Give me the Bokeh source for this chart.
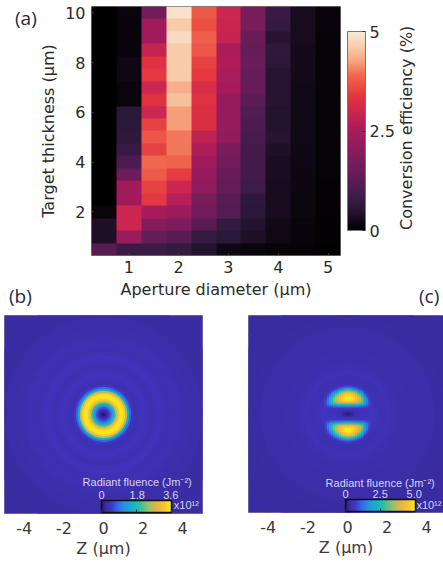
import numpy as np
from bokeh.embed import file_html
from bokeh.resources import INLINE
from bokeh.plotting import figure
from bokeh.layouts import column, row
from bokeh.models import (ColumnDataSource, LinearColorMapper, ColorBar, FixedTicker, Div,
                          Label, LinearAxis, Range1d)

# ---------- panel (a) data: conversion efficiency (%) ----------
thickness = [10, 9.5, 9, 8.5, 8, 7.5, 7, 6.5, 6, 5.5, 5, 4.5, 4, 3.5, 3, 2.5, 2, 1.5, 1, 0.5]
d05 = [0, 0, 0, 0, 0, 0, 0, 0, 0, 0, 0, 0, 0, 0, 0, 0.02, 0.15, 0.4, 0.4, 1.2]
d10 = [.15, .12, .12, .12, .2, .2, .15, .15, .55, .55, .6, .75, 1.0, 1.5, 2.4, 2.4, 3.0, 3.0, 2.3, .8]
d15 = [1.6, 2.4, 2.4, 2.9, 3.3, 3.4, 3.0, 3.3, 3.0, 3.5, 3.7, 3.5, 3.9, 3.75, 3.5, 3.4, 2.5, 1.9, 1.4, .8]
d20 = [4.9, 4.6, 4.8, 4.6, 4.6, 4.6, 4.35, 4.5, 4.2, 4.2, 4.0, 4.0, 3.85, 3.45, 3.0, 2.7, 2.3, 1.8, 1.2, .7]
d25 = [3.75, 3.65, 3.8, 3.7, 3.5, 3.4, 3.2, 3.3, 3.25, 3.25, 2.85, 2.6, 2.4, 2.2, 2.1, 1.7, 1.6, 1.2, .7, .45]
d30 = [3.0, 2.95, 2.9, 2.55, 2.6, 2.55, 2.5, 2.2, 2.2, 2.2, 2.15, 1.75, 1.6, 1.4, 1.35, 1.2, 1.15, .65, .55, .2]
d35 = [1.75, 1.7, 1.45, 1.4, 1.45, 1.4, 1.4, 1.25, 1.1, 1.05, .95, .9, .9, .9, .85, .6, .55, .45, .4, .15]
d40 = [.75, .65, .5, .6, .55, .5, .5, .5, .45, .45, .5, .4, .35, .35, .3, .3, .3, .25, .22, .1]
d45 = [.3, .3, .3, .28, .27, .27, .25, .25, .25, .22, .22, .2, .2, .18, .18, .17, .17, .13, .12, .08]
d50 = [.12, .12, .1, .1, .1, .1, .1, .1, .08, .08, .08, .08, .08, .08, .07, .07, .06, .05, .04, .03]
efficiency_columns = [d05, d10, d15, d20, d25, d30, d35, d40, d45, d50]

# ---------- panel (b) data: radial fluence profile (fraction of scale) ----------
b_radius = [7.2, 6, 5, 4.5, 4, 3.8, 3.6, 3.4, 3.2, 3.0, 2.8, 2.6, 2.4, 2.2, 2.0, 1.9, 1.8, 1.7, 1.6,
            1.5, 1.4, 1.3, 1.2, 1.1, 1.0, .9, .8, .7, .6, .5, .4, .3, .2, .1]
b_level = [.06, .06, .07, .08, .09, .10, .10, .09, .10, .115, .11, .095, .10, .115, .12, .11, .10, .09, .10,
           .14, .22, .42, .72, .92, .98, .97, .90, .72, .50, .33, .20, .12, .05, .01]

# ---------- panel (c) data: background rings and one quadrant of the fluence ----------
c_radius = [7.2, 6, 5, 4.4, 4.0, 3.6, 3.2, 2.8, 2.6, 2.4, 2.2, 2.0, 1.8]
c_level = [.055, .055, .06, .065, .07, .07, .075, .08, .085, .095, .105, .10, .09]
c_step = 0.1
c_quadrant = [
    [.00, .01, .03, .06, .09, .10, .11, .11, .11, .12, .12, .12, .13, .13, .12, .11, .10],
    [.03, .04, .05, .07, .09, .10, .11, .11, .11, .12, .12, .12, .13, .13, .12, .11, .10],
    [.10, .10, .10, .11, .11, .11, .12, .12, .12, .12, .12, .12, .13, .13, .12, .11, .10],
    [.14, .14, .14, .14, .14, .14, .14, .14, .14, .14, .14, .14, .13, .13, .12, .11, .10],
    [.28, .28, .27, .27, .26, .25, .24, .23, .21, .19, .17, .15, .13, .12, .11, .10, .10],
    [.55, .55, .54, .53, .51, .49, .46, .42, .37, .31, .24, .17, .13, .11, .10, .10, .10],
    [.80, .80, .79, .77, .74, .70, .65, .58, .49, .38, .27, .18, .13, .11, .10, .10, .10],
    [.95, .95, .93, .90, .86, .80, .73, .64, .52, .40, .27, .17, .12, .10, .10, .10, .10],
    [1.0, .99, .97, .93, .88, .81, .72, .61, .49, .36, .24, .15, .11, .10, .10, .10, .10],
    [.98, .97, .94, .89, .83, .75, .65, .53, .41, .29, .19, .13, .10, .09, .09, .10, .10],
    [.94, .92, .88, .82, .74, .65, .54, .43, .31, .21, .15, .11, .09, .09, .09, .10, .10],
    [.82, .80, .75, .68, .60, .50, .40, .30, .22, .15, .11, .09, .09, .09, .09, .10, .10],
    [.58, .56, .52, .46, .38, .30, .24, .18, .14, .11, .09, .09, .09, .09, .09, .10, .11],
    [.34, .33, .30, .26, .22, .17, .14, .12, .10, .09, .09, .09, .09, .09, .10, .10, .11],
    [.18, .17, .16, .14, .12, .11, .10, .09, .09, .09, .09, .09, .09, .09, .10, .11, .11],
    [.11, .11, .10, .10, .09, .09, .09, .09, .09, .09, .09, .09, .10, .10, .10, .11, .11],
    [.09, .09, .09, .09, .09, .09, .09, .09, .09, .09, .09, .10, .10, .10, .11, .11, .10],
]

# ---------- colour scales ----------
def ramp(stops, colors, n=256):
    rgb = np.array([[int(c[i:i + 2], 16) for i in (1, 3, 5)] for c in colors], float)
    t = np.linspace(0, 1, n)
    chans = [np.interp(t, stops, rgb[:, k]) for k in range(3)]
    return ["#%02x%02x%02x" % (int(a), int(b), int(c)) for a, b, c in zip(*chans)]

rocket = ramp([0, .06, .12, .2, .3, .4, .5, .6, .67, .73, .78, .85, .92, 1],
              ["#000000", "#180c1e", "#2f1a3e", "#4a1c50", "#6e1c5a", "#8a1c5c", "#a81b5c", "#cb2750",
               "#e2333f", "#ec5045", "#f0674f", "#f6a47e", "#f8cba9", "#faeada"])
parula = ramp([0, .06, .14, .22, .32, .44, .55, .68, .8, .9, 1],
              ["#241a6e", "#3b2ea6", "#4236c4", "#3565e8", "#2c8fe0", "#12b2cf", "#35c09b",
               "#9bc16a", "#e9b53f", "#fdc52e", "#f7f01c"])

AXIS_FONT = "DejaVu Sans"
TEXT = "#2b2b2b"
PANEL = "#1f2a44"
FONT_PX = "16px"

def style_axis(ax, color=TEXT):
    ax.major_label_text_font = AXIS_FONT
    ax.major_label_text_font_size = FONT_PX
    ax.major_label_text_color = color
    ax.axis_label_text_font = AXIS_FONT
    ax.axis_label_text_font_size = FONT_PX
    ax.axis_label_text_font_style = "normal"
    ax.axis_label_text_color = color
    ax.minor_tick_line_color = None
    ax.major_tick_in = 2
    ax.major_tick_out = 0
    ax.major_tick_line_color = "#444444"
    ax.axis_line_color = None

def blank_labels(ax, ticks):
    ax.major_label_overrides = {t: "" for t in ticks}
    ax.major_label_standoff = 0

# ---------- (a) ----------
a_map = LinearColorMapper(palette=rocket, low=0, high=5)
grid = np.array(efficiency_columns).T[::-1]
pa = figure(frame_width=249, frame_height=249, x_range=(0.25, 5.25), y_range=(0.25, 10.25),
            min_border_left=91, min_border_top=6, min_border_right=103, min_border_bottom=50,
            toolbar_location=None, output_backend="svg", outline_line_color="#777777")
pa.grid.visible = False
pa.image(image=[grid], x=0.25, y=0.25, dw=5, dh=10, color_mapper=a_map)
pa.xaxis.ticker = FixedTicker(ticks=[1, 2, 3, 4, 5])
pa.yaxis.ticker = FixedTicker(ticks=[2, 4, 6, 8, 10])
pa.xaxis.axis_label = "Aperture diameter (μm)"
pa.yaxis.axis_label = "Target thickness (μm)"
style_axis(pa.xaxis[0]); style_axis(pa.yaxis[0])
pa.xaxis.major_label_standoff = 5
pa.xaxis.axis_label_standoff = 4
pa.yaxis.major_label_standoff = 6
pa.yaxis.axis_label_standoff = 4
cb = ColorBar(color_mapper=a_map, ticker=FixedTicker(ticks=[0, 2.5, 5]), width=18, height=199,
              major_label_overrides={0: "0", 2.5: "2.5", 5: "5"}, major_label_text_font=AXIS_FONT,
              major_label_text_font_size=FONT_PX, major_label_text_color=TEXT,
              label_standoff=4, major_tick_line_color="#333333", major_tick_in=3, minor_tick_line_color=None,
              bar_line_color="#777777", border_line_color=None, background_fill_color=None,
              padding=0, margin=0, location=(7, 25))
pa.add_layout(cb, "right")

def panel_tag(text, left, top):
    return Div(text=text, margin=0, width=24, height=24,
               styles={"position": "absolute", "left": f"{left}px", "top": f"{top}px", "color": PANEL,
                       "font-family": "Open Sans", "font-size": "19px", "line-height": "24px"})

tags = [panel_tag("(a)", 15, 6), panel_tag("(b)", 9, 284), panel_tag("(c)", 419, 284)]
cb_title = Div(text="Conversion efficiency (%)", margin=0, width=200, height=22,
               styles={"position": "absolute", "left": "307px", "top": "119px", "color": TEXT,
                       "transform": "rotate(-90deg)", "text-align": "center", "white-space": "nowrap",
                       "font-family": AXIS_FONT, "font-size": "16px", "line-height": "22px"})

# ---------- (b), (c) ----------
f_map = LinearColorMapper(palette=parula, low=0, high=1)
field_ticks = [-4, -2, 0, 2, 4]

def field_panel(frame_w, frame_h, x_end, left, top, right, bottom):
    p = figure(frame_width=frame_w, frame_height=frame_h, x_range=Range1d(-5, x_end), y_range=Range1d(-5, 5),
               min_border_left=left, min_border_top=top, min_border_right=right, min_border_bottom=bottom,
               toolbar_location=None, output_backend="svg", outline_line_color="#999999")
    p.grid.visible = False
    p.xaxis.ticker = FixedTicker(ticks=field_ticks)
    p.xaxis.major_label_overrides = {-4: "-4", -2: "-2", 0: "0", 2: "2", 4: "4"}
    p.xaxis.axis_label = "Z (μm)"
    style_axis(p.xaxis[0], color="#3a3a3a")
    p.xaxis.major_label_standoff = 8
    p.xaxis.axis_label_standoff = 2
    p.yaxis.ticker = FixedTicker(ticks=field_ticks)
    style_axis(p.yaxis[0])
    blank_labels(p.yaxis[0], field_ticks)
    top_ax = LinearAxis(ticker=FixedTicker(ticks=field_ticks))
    style_axis(top_ax)
    blank_labels(top_ax, field_ticks)
    p.add_layout(top_ax, "above")
    return p

def inset(p, loc, w, h, title, title_xy, ticks, tick_y, mult_xy):
    bar = ColorBar(color_mapper=f_map, ticker=FixedTicker(ticks=[0, .5, 1]), width=w, height=h,
                   orientation="horizontal", major_label_overrides={0: "", .5: "", 1: ""}, label_standoff=0,
                   major_tick_line_color="#103040", major_tick_in=3, minor_tick_line_color=None,
                   bar_line_color="#111111", bar_line_width=1.5, border_line_color=None,
                   background_fill_color=None, padding=0, margin=0, location=loc)
    p.add_layout(bar, "center")
    style = dict(text_font="Liberation Sans", text_color="#d6d2f2", text_baseline="middle")
    p.add_layout(Label(x=title_xy[0], y=title_xy[1], text=title, text_align="center",
                       text_font_size="11px", **style))
    for txt, tx in ticks:
        p.add_layout(Label(x=tx, y=tick_y, text=txt, text_align="center", text_font_size="11px", **style))
    p.add_layout(Label(x=mult_xy[0], y=mult_xy[1], text="x10¹²", text_align="left",
                       text_font_size="11px", **style))

pb = field_panel(198, 198, 5, 4, 10, 22, 47)
rad_src = ColumnDataSource(dict(r=b_radius, v=b_level))
pb.circle(x=0, y=0, radius="r", source=rad_src, line_color=None,
          fill_color={"field": "v", "transform": f_map})
inset(pb, (97, 1), 70, 12, "Radiant fluence (Jm⁻²)", (1.7, -3.43),
      [("0", -0.1), ("1.8", 1.7), ("3.6", 3.4)], -4.09, (3.55, -4.55))

pc = field_panel(195, 197, 4.85, 24, 9, 0, 49)
ring_src = ColumnDataSource(dict(r=c_radius, v=c_level))
pc.circle(x=0, y=0, radius="r", source=ring_src, line_color=None,
          fill_color={"field": "v", "transform": f_map})
quad = np.array(c_quadrant)
upper = np.hstack([quad[:, :0:-1], quad])
whole = np.vstack([upper[:0:-1], upper])
half = c_step * (quad.shape[0] - 0.5)
pc.image(image=[whole], x=-half, y=-half, dw=2 * half, dh=2 * half, color_mapper=f_map)
inset(pc, (97, 1), 70, 12, "Radiant fluence (Jm⁻²)", (1.65, -3.48),
      [("0", -0.1), ("2.5", 1.65), ("5.0", 3.37)], -4.06, (3.48, -4.6))

page = column(pa, row(pb, pc, spacing=0), *tags, cb_title, spacing=0, margin=(0, 0, 0, 0))
open("out.html", "w").write(file_html(page, INLINE))
